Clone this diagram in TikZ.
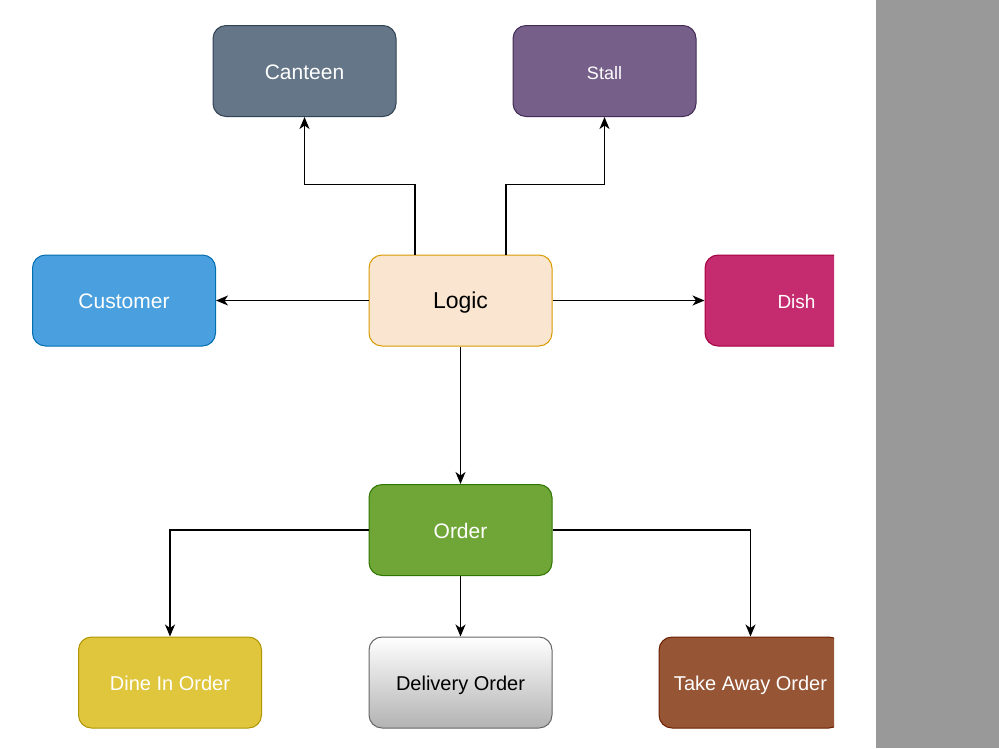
\documentclass[tikz,border=0pt]{standalone}
\usepackage{fontspec}
\setmainfont{Liberation Sans}
\usepackage{tikz}
\usetikzlibrary{arrows.meta, positioning}

\definecolor{canteenfill}{RGB}{100,118,135}
\definecolor{canteenline}{RGB}{49,67,84}
\definecolor{stallfill}{RGB}{118,96,138}
\definecolor{stallline}{RGB}{67,45,87}
\definecolor{custfill}{RGB}{74,160,222}
\definecolor{custline}{RGB}{0,110,175}
\definecolor{logicfill}{RGB}{250,230,208}
\definecolor{logicline}{RGB}{215,155,0}
\definecolor{dishfill}{RGB}{197,43,111}
\definecolor{dishline}{RGB}{165,0,64}
\definecolor{orderfill}{RGB}{112,166,55}
\definecolor{orderline}{RGB}{45,118,0}
\definecolor{dinefill}{RGB}{224,198,61}
\definecolor{dineline}{RGB}{176,149,0}
\definecolor{takefill}{RGB}{150,85,53}
\definecolor{takeline}{RGB}{109,31,0}
\definecolor{sidebar}{RGB}{153,153,153}

\tikzset{
  box/.style={draw, rounded corners=13pt, line width=1pt, minimum width=183pt,
    minimum height=91pt, inner sep=0pt, text=white, text height=16.4pt, text depth=0pt,
    font=\fontsize{20}{24}\selectfont},
  arr/.style={-{Stealth[length=12pt, width=10pt, inset=3.5pt]}, line width=1.4pt}
}

\begin{document}
\begin{tikzpicture}[x=1pt, y=-1pt]
  \useasboundingbox (0,0) rectangle (999,748);
  \fill[sidebar] (876,0) rectangle (999,748);

  % nodes
  \node[box, fill=canteenfill, draw=canteenline, font=\fontsize{21}{25}\selectfont] (canteen) at (304.5,71) {Canteen};
  \node[box, fill=stallfill, draw=stallline, font=\fontsize{18}{22}\selectfont] (stall) at (604.5,71) {Stall};
  \node[box, fill=custfill, draw=custline, font=\fontsize{21}{25}\selectfont] (customer) at (124,300.5) {Customer};
  \node[box, fill=logicfill, draw=logicline, text=black, font=\fontsize{23}{27}\selectfont] (logic) at (460.5,300.5) {Logic};
  \node[box, fill=orderfill, draw=orderline, font=\fontsize{21}{25}\selectfont] (order) at (460.5,530) {Order};
  \node[box, fill=dinefill, draw=dineline] (dine) at (170,682.5) {Dine In Order};
  \node[box, top color=white, bottom color=sidebar!75, draw=black!60, text=black] (delivery) at (460.5,682.5) {Delivery Order};
  \begin{scope}
    \clip (0,0) rectangle (834,748);
    \node[box, fill=dishfill, draw=dishline, font=\fontsize{19}{23}\selectfont] (dish) at (796.5,300.5) {Dish};
    \node[box, fill=takefill, draw=takeline] (takeaway) at (750.5,682.5) {Take Away Order};
  \end{scope}

  % arrows
  \draw[arr] ([xshift=-45.5pt]logic.north) -- ++(0,-70) -| (canteen.south);
  \draw[arr] ([xshift=45.5pt]logic.north) -- ++(0,-70) -| (stall.south);
  \draw[arr] (logic.west) -- (customer.east);
  \draw[arr] (logic.east) -- (dish.west);
  \draw[arr] (logic.south) -- (order.north);
  \draw[arr] (order.west) -| (dine.north);
  \draw[arr] (order.south) -- (delivery.north);
  \draw[arr] (order.east) -| (takeaway.north);
\end{tikzpicture}
\end{document}
